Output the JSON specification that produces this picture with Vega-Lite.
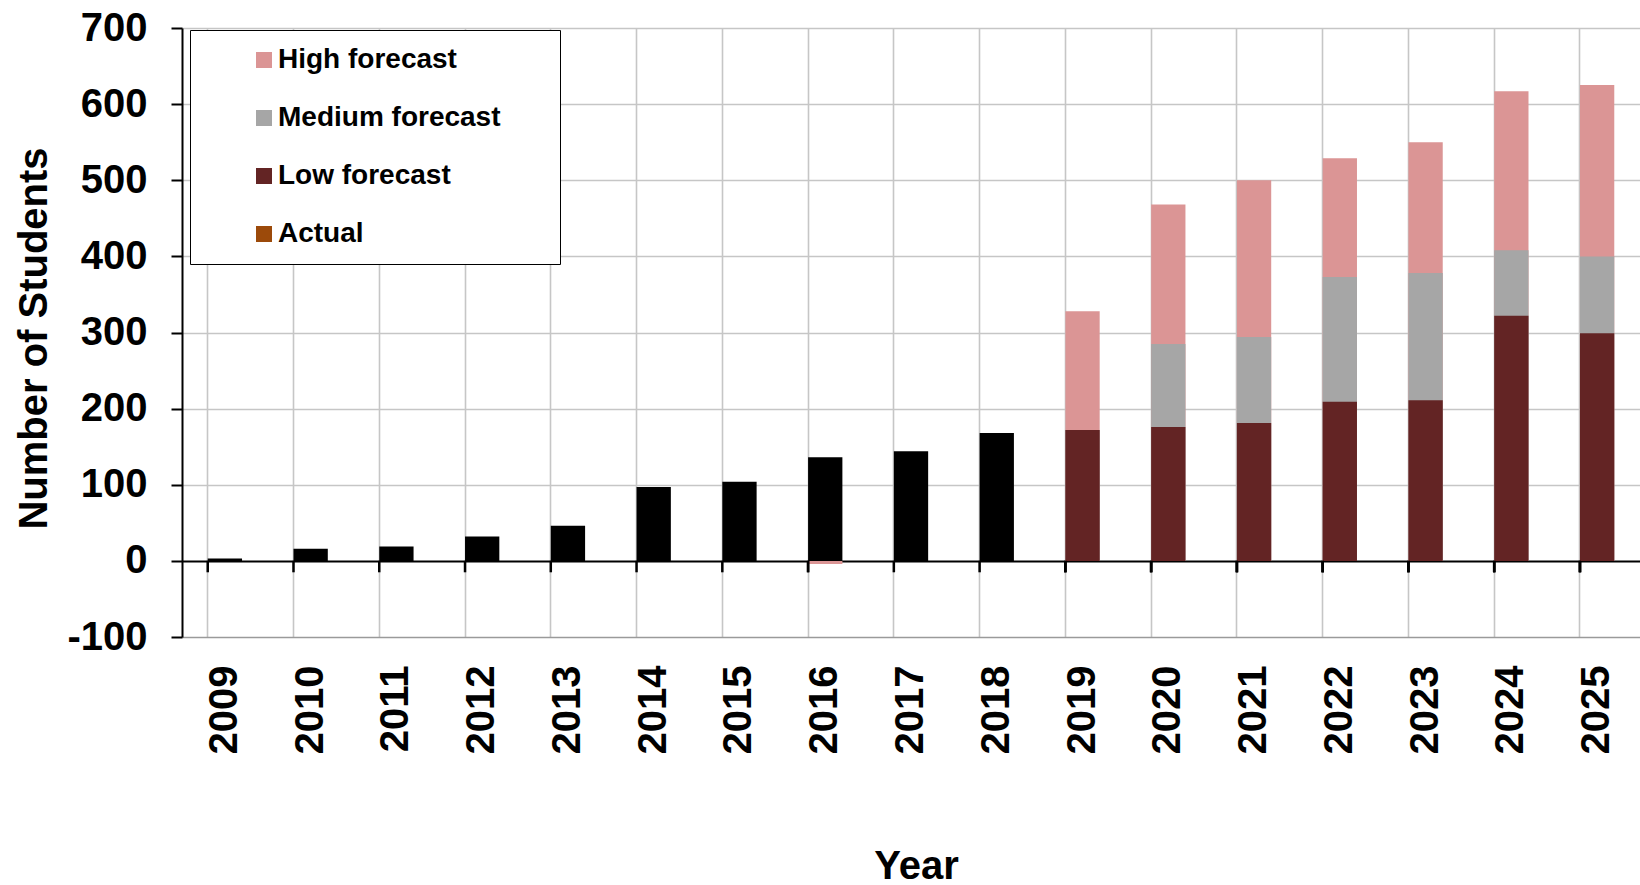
{
  "$schema": "https://vega.github.io/schema/vega-lite/v6.json",
  "autosize": {"type": "none"},
  "padding": {"left": 182, "top": 28, "right": 0, "bottom": 248},
  "width": 1458,
  "height": 609,
  "background": "white",
  "config": {
    "view": {"stroke": null},
    "font": "Liberation Sans",
    "axis": {"labelFont": "Liberation Sans", "titleFont": "Liberation Sans", "labelFontWeight": "bold", "titleFontWeight": "bold", "labelColor": "black", "titleColor": "black", "labelFontSize": 40, "titleFontSize": 40},
    "legend": {"labelFont": "Liberation Sans", "labelFontWeight": "bold", "labelColor": "black"}
  },
  "data": {
    "values": [
      {"Year": "2009", "Series": "Actual", "Students": 3},
      {"Year": "2010", "Series": "Actual", "Students": 16},
      {"Year": "2011", "Series": "Actual", "Students": 19},
      {"Year": "2012", "Series": "Actual", "Students": 32},
      {"Year": "2013", "Series": "Actual", "Students": 46},
      {"Year": "2014", "Series": "Actual", "Students": 97},
      {"Year": "2015", "Series": "Actual", "Students": 104},
      {"Year": "2016", "Series": "High forecast", "Students": -4},
      {"Year": "2016", "Series": "Actual", "Students": 136},
      {"Year": "2017", "Series": "Actual", "Students": 144},
      {"Year": "2018", "Series": "Actual", "Students": 168},
      {"Year": "2019", "Series": "High forecast", "Students": 328},
      {"Year": "2019", "Series": "Medium forecast", "Students": 172},
      {"Year": "2019", "Series": "Low forecast", "Students": 172},
      {"Year": "2020", "Series": "High forecast", "Students": 468},
      {"Year": "2020", "Series": "Medium forecast", "Students": 285},
      {"Year": "2020", "Series": "Low forecast", "Students": 176},
      {"Year": "2021", "Series": "High forecast", "Students": 500},
      {"Year": "2021", "Series": "Medium forecast", "Students": 294},
      {"Year": "2021", "Series": "Low forecast", "Students": 181},
      {"Year": "2022", "Series": "High forecast", "Students": 529},
      {"Year": "2022", "Series": "Medium forecast", "Students": 373},
      {"Year": "2022", "Series": "Low forecast", "Students": 209},
      {"Year": "2023", "Series": "High forecast", "Students": 550},
      {"Year": "2023", "Series": "Medium forecast", "Students": 378},
      {"Year": "2023", "Series": "Low forecast", "Students": 211},
      {"Year": "2024", "Series": "High forecast", "Students": 617},
      {"Year": "2024", "Series": "Medium forecast", "Students": 408},
      {"Year": "2024", "Series": "Low forecast", "Students": 322},
      {"Year": "2025", "Series": "High forecast", "Students": 625},
      {"Year": "2025", "Series": "Medium forecast", "Students": 400},
      {"Year": "2025", "Series": "Low forecast", "Students": 299}
    ]
  },
  "layer": [
    {
      "mark": {"type": "bar"},
      "encoding": {
        "x": {
          "field": "Year", "type": "ordinal",
          "scale": {"paddingInner": 0.6, "paddingOuter": 0.3},
          "axis": {
            "title": "Year", "labelAngle": -90, "labelAlign": "right", "labelBaseline": "middle",
            "labelPadding": 28, "ticks": false, "tickSize": 0, "domain": false,
            "grid": true, "bandPosition": 0, "gridColor": "#c6c6c6", "gridWidth": 1.6,
            "titleX": 734, "titleY": 241, "titleBaseline": "alphabetic", "titleAlign": "center", "titleAnchor": null
          }
        },
        "y": {
          "field": "Students", "type": "quantitative", "stack": null,
          "scale": {"domain": [-100, 700], "nice": false, "zero": false},
          "axis": {
            "title": "Number of Students", "values": [-100, 0, 100, 200, 300, 400, 500, 600, 700],
            "labelExpr": "'' + datum.value",
            "domain": true, "domainColor": "black", "domainWidth": 2,
            "ticks": true, "tickColor": "black", "tickSize": 11, "tickWidth": 2,
            "labelPadding": 24,
            "grid": true,
            "gridColor": {"condition": [{"test": "datum.value === 0", "value": "black"}, {"test": "datum.value === -100", "value": "#9a9a9a"}], "value": "#c6c6c6"},
            "gridWidth": {"condition": {"test": "datum.value === 0", "value": 2.2}, "value": 1.6},
            "titleAngle": -90, "titleX": -148, "titleY": 310, "titleAlign": "center", "titleBaseline": "middle"
          }
        },
        "color": {
          "field": "Series", "type": "nominal",
          "condition": {"test": "datum.Series === 'Actual'", "value": "#000000"},
          "scale": {"domain": ["High forecast", "Medium forecast", "Low forecast", "Actual"], "range": ["#db9595", "#a6a6a6", "#632424", "#9c4a0a"]},
          "legend": {
            "orient": "none", "legendX": 8, "legendY": 2,
            "title": " ", "titleOrient": "right", "titlePadding": 44, "titleFontSize": 10,
            "labelFontSize": 28, "labelLimit": 500, "symbolType": "square", "symbolSize": 256,
            "symbolOffset": 44, "labelOffset": 0, "rowPadding": 30, "padding": 16,
            "strokeColor": "black", "fillColor": "white", "symbolOpacity": 1
          }
        }
      }
    },
    {
      "mark": {"type": "rule", "color": "black", "strokeWidth": 2.5},
      "encoding": {
        "x": {"field": "Year", "type": "ordinal", "bandPosition": 0},
        "y": {"datum": 0, "type": "quantitative"},
        "y2": {"datum": -15}
      }
    }
  ]
}
